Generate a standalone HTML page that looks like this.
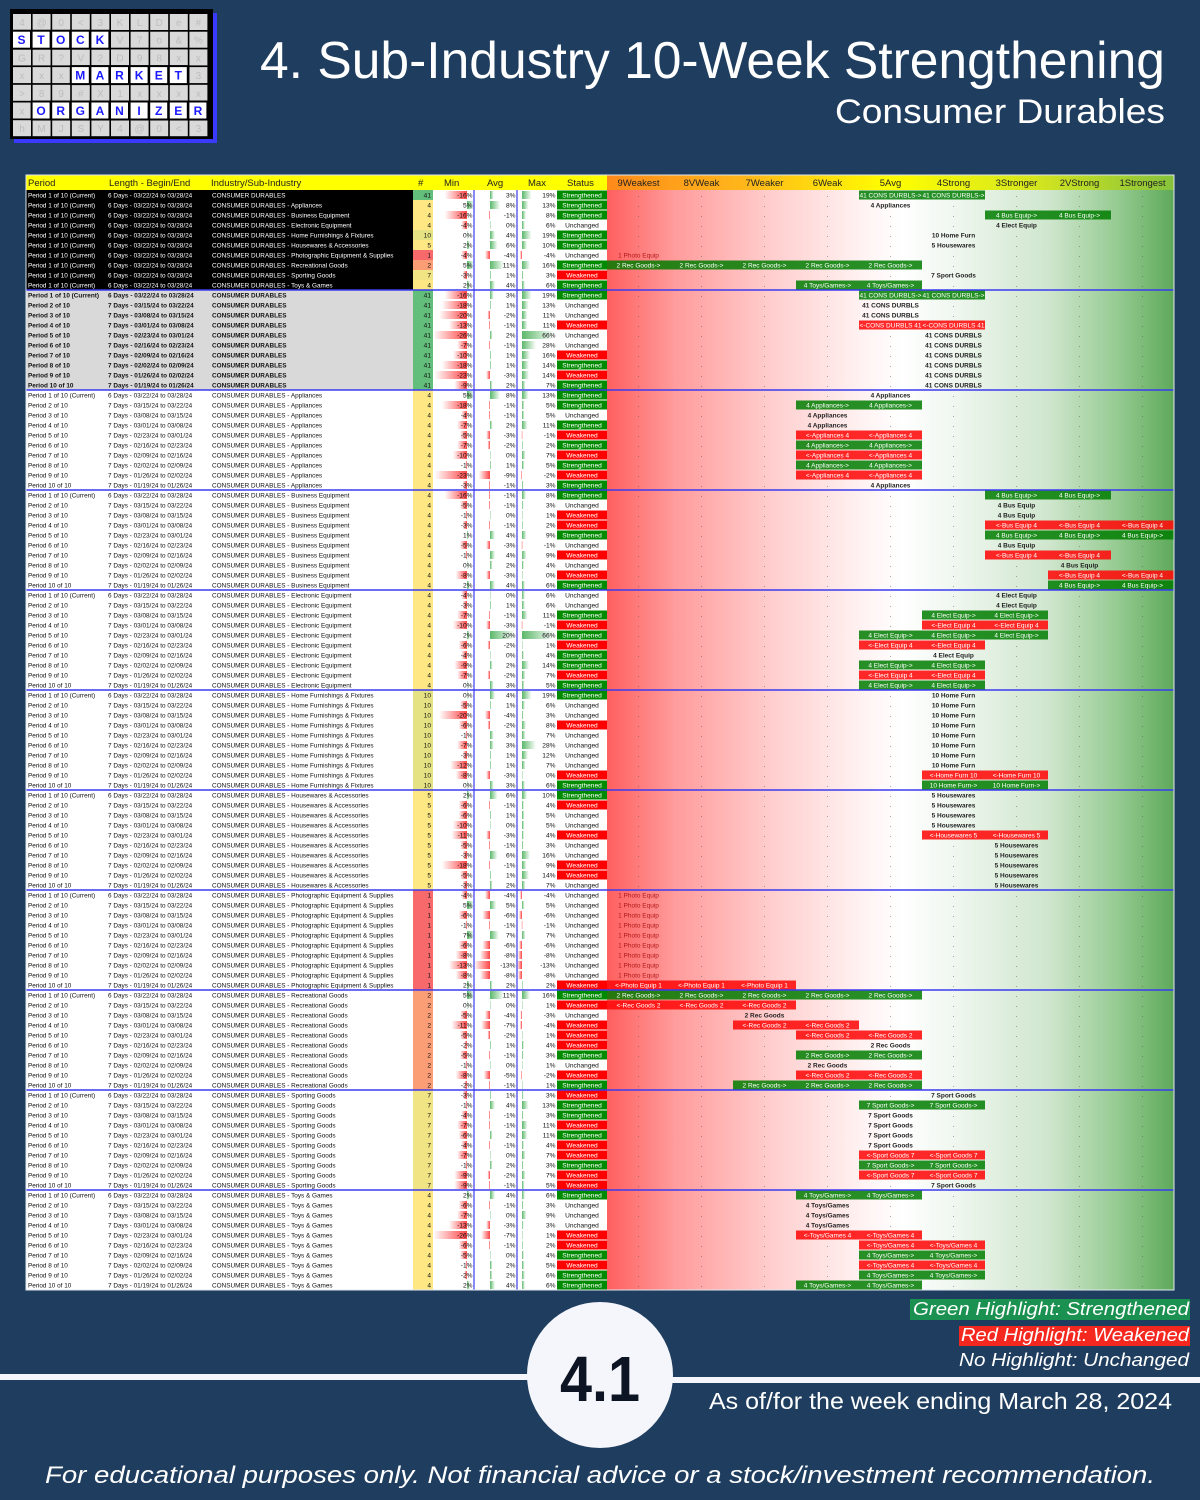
<!DOCTYPE html>
<html><head><meta charset="utf-8"><title>Sub-Industry 10-Week Strengthening</title>
<style>
html,body{margin:0;padding:0;background:#1f3e5f;width:1200px;height:1500px;overflow:hidden}
svg{display:block}
text{font-family:"Liberation Sans",sans-serif}
</style></head>
<body>
<svg id="root" width="1200" height="1500" viewBox="0 0 1200 1500" xmlns="http://www.w3.org/2000/svg">
<defs>
<linearGradient id="heatBg" x1="0" x2="1" y1="0" y2="0">
<stop offset="0" stop-color="#ff5f5f"/><stop offset="0.12" stop-color="#ff9c9c"/><stop offset="0.3" stop-color="#ffd0d0"/><stop offset="0.45" stop-color="#fff2f2"/><stop offset="0.52" stop-color="#ffffff"/><stop offset="0.62" stop-color="#eef6ee"/><stop offset="0.78" stop-color="#cfe6cd"/><stop offset="0.9" stop-color="#96cb92"/><stop offset="1" stop-color="#5ea95a"/>
</linearGradient>
<linearGradient id="headBg" x1="0" x2="1" y1="0" y2="0">
<stop offset="0" stop-color="#ff8a1a"/><stop offset="0.25" stop-color="#ffb81a"/><stop offset="0.5" stop-color="#ffff00"/><stop offset="0.75" stop-color="#d6e61e"/><stop offset="1" stop-color="#86c23c"/>
</linearGradient>
<linearGradient id="negBar" x1="0" x2="1"><stop offset="0" stop-color="#ffffff"/><stop offset="1" stop-color="#f44"/></linearGradient>
<linearGradient id="posBar" x1="0" x2="1"><stop offset="0" stop-color="#5cb86a"/><stop offset="1" stop-color="#ffffff"/></linearGradient>
</defs>

<!-- logo -->
<g id="logo">
<rect x="14" y="13" width="203" height="130" fill="#3a3aff"/>
<rect x="10" y="9" width="203" height="130" fill="#000"/>
</g>

<text x="1165" y="78" text-anchor="end" font-size="52" fill="#ffffff" textLength="905" lengthAdjust="spacingAndGlyphs">4. Sub-Industry 10-Week Strengthening</text>
<text x="1165" y="123" text-anchor="end" font-size="34" fill="#ffffff" textLength="330" lengthAdjust="spacingAndGlyphs">Consumer Durables</text>

<g id="table"></g>

<!-- legend -->
<rect x="910" y="1299" width="280" height="21" fill="#1a9150"/>
<text x="1189" y="1315" text-anchor="end" font-size="18" font-style="italic" fill="#fff" textLength="276" lengthAdjust="spacingAndGlyphs">Green Highlight: Strengthened</text>
<rect x="959" y="1326" width="231" height="20" fill="#f4281e"/>
<text x="1189" y="1341" text-anchor="end" font-size="18" font-style="italic" fill="#fff" textLength="228" lengthAdjust="spacingAndGlyphs">Red Highlight: Weakened</text>
<text x="1189" y="1366" text-anchor="end" font-size="18" font-style="italic" fill="#fff" textLength="230" lengthAdjust="spacingAndGlyphs">No Highlight: Unchanged</text>

<rect x="0" y="1374" width="530" height="6" fill="#f4f6fb"/>
<rect x="670" y="1377" width="530" height="6" fill="#f4f6fb"/>
<circle cx="600" cy="1375" r="73" fill="#f4f6fb"/>
<text x="600" y="1401" text-anchor="middle" font-size="64" font-weight="bold" fill="#0d1424" textLength="80" lengthAdjust="spacingAndGlyphs">4.1</text>
<text x="1172" y="1409" text-anchor="end" font-size="23" fill="#fff" textLength="463" lengthAdjust="spacingAndGlyphs">As of/for the week ending March 28, 2024</text>
<text x="600" y="1483" text-anchor="middle" font-size="24" font-style="italic" fill="#fff" textLength="1110" lengthAdjust="spacingAndGlyphs">For educational purposes only. Not financial advice or a stock/investment recommendation.</text>
</svg>

<script>
// ---------- data ----------
const subNames = ["CONSUMER DURABLES","CONSUMER DURABLES - Appliances","CONSUMER DURABLES - Business Equipment","CONSUMER DURABLES - Electronic Equipment","CONSUMER DURABLES - Home Furnishings & Fixtures","CONSUMER DURABLES - Housewares & Accessories","CONSUMER DURABLES - Photographic Equipment & Supplies","CONSUMER DURABLES - Recreational Goods","CONSUMER DURABLES - Sporting Goods","CONSUMER DURABLES - Toys & Games"];
const subCounts = [41,4,4,4,10,5,1,2,7,4];
const subShort = ["CONS DURBLS","Appliances","Bus Equip","Elect Equip","Home Furn","Housewares","Photo Equip","Rec Goods","Sport Goods","Toys/Games"];
const periodLengths = ["6 Days - 03/22/24 to 03/28/24","7 Days - 03/15/24 to 03/22/24","7 Days - 03/08/24 to 03/15/24","7 Days - 03/01/24 to 03/08/24","7 Days - 02/23/24 to 03/01/24","7 Days - 02/16/24 to 02/23/24","7 Days - 02/09/24 to 02/16/24","7 Days - 02/02/24 to 02/09/24","7 Days - 01/26/24 to 02/02/24","7 Days - 01/19/24 to 01/26/24"];
const headerLabels = ["Period","Length - Begin/End","Industry/Sub-Industry","#","Min","Avg","Max","Status"];
const rankLabels = ["9Weakest","8VWeak","7Weaker","6Weak","5Avg","4Strong","3Stronger","2VStrong","1Strongest"];
const minVals = [
-16,5,-16,-4,0,2,-4,5,-3,2,
-16,-18,-20,-13,-26,-7,-10,-18,-23,-9,
5,-18,-4,-7,-5,-7,-10,-1,-23,-3,
-16,-5,-1,-3,1,-5,-1,0,-8,2,
-4,-3,-7,-10,2,-6,-4,-9,-7,0,
0,-5,-20,-6,-1,-7,-3,-12,-8,0,
2,-6,-6,-10,-11,-5,-3,-18,-5,-3,
-4,5,-6,-1,7,-6,-8,-13,-8,2,
5,0,-5,-11,-5,-2,-5,-1,-8,-2,
-3,-1,-4,-7,-6,-4,-7,-1,-9,-9,
2,-6,-7,-13,-26,-6,-5,-1,-2,2];
const avgVals = [
3,8,-1,0,4,6,-4,11,1,4,
3,1,-2,-1,2,-1,1,1,-3,2,
8,-1,-1,2,-3,-2,0,1,-9,-1,
-1,-1,0,-1,4,-3,4,2,-3,4,
0,1,-1,-3,20,-2,0,2,-2,3,
4,1,-4,-2,3,3,1,1,-3,3,
6,-1,1,0,-3,-1,6,-1,1,2,
-4,5,-6,-1,7,-6,-8,-13,-8,2,
11,0,-4,-7,-2,1,-1,0,-5,-1,
1,4,-1,-1,2,-1,0,2,-2,-1,
4,-1,0,-3,-7,-1,0,2,2,4];
const maxVals = [
19,13,8,6,19,10,-4,16,3,6,
19,13,11,11,66,28,16,14,14,7,
13,5,5,11,-1,2,7,5,-2,3,
8,3,1,2,9,-1,9,4,0,6,
6,6,11,-1,66,1,4,14,7,5,
19,6,3,8,7,28,12,7,0,6,
10,4,5,5,4,3,16,9,14,7,
-4,5,-6,-1,7,-6,-8,-13,-8,2,
16,1,-3,-4,1,4,3,1,-2,1,
3,13,3,11,11,4,7,3,7,5,
6,3,9,3,1,2,4,5,6,6];
const statusCodes = "SSSUSSUSWS"+"SUUWUUWSWS"+"SSUSWSWSWS"+"SUWWSUWUWS"+"UUSWSWSSWS"+"SUUWUUUUWS"+"SWUUWUUWWU"+"UUUUUUUUUW"+"SWUWWWSUWS"+"WSSWSWWSWW"+"SUUUWWSWSS";
const cellSpecs = [
"4g5g","4n","6g7g","6n","5n","5n","0p","0g1g2g3g4g","5n","3g4g",
"4g5g","4n","4n","4r5r","5n","5n","5n","5n","5n","5n",
"4n","3g4g","3n","3n","3r4r","3g4g","3r4r","3g4g","3r4r","4n",
"6g7g","6n","6n","6r7r8r","6g7g8g","6n","6r7r","7n","7r8r","7g8g",
"6n","6n","5g6g","5r6r","4g5g6g","4r5r","5n","4g5g","4r5r","4g5g",
"5n","5n","5n","5n","5n","5n","5n","5n","5r6r","5g6g",
"5n","5n","5n","5n","5r6r","6n","6n","6n","6n","6n",
"0p","0p","0p","0p","0p","0p","0p","0p","0p","0r1r2r",
"0g1g2g3g4g","0r1r2r","2n","2r3r","3r4r","4n","3g4g","3n","3r4r","2g3g4g",
"5n","4g5g","4n","4n","4n","4n","4r5r","4g5g","4r5r","5n",
"3g4g","3n","3n","3n","3r4r","4r5r","4g5g","4r5r","4g5g","3g4g"];

// ---------- layout ----------
const NS = "http://www.w3.org/2000/svg";
const T = document.getElementById("table");
const X0 = 26, X1 = 1174, HY = 175, RY = 190, RH = 10;
const colX = {period:28,len:108,ind:212,cnt0:413,cnt1:433,min0:433,min1:474,avg0:474,avg1:517,max0:517,max1:557,st0:557,st1:607};
const heatX0 = 607, heatW = 63;
const countColors = {41:"#63be7b",10:"#e4e282",7:"#f1e484",5:"#fde884",4:"#ffe884",2:"#fb9d75",1:"#f8696b"};
const minAxis = x => 467 + x*1.4;
const avgAxis = x => 490 + x*1.25;
const maxAxis = x => 522 + x*0.5;
const rowY = i => RY + i*RH;
const heatXc = k => heatX0 + k*heatW + heatW/2;

function el(tag, attrs, parent){
  const e = document.createElementNS(NS, tag);
  for (const k in attrs) e.setAttribute(k, attrs[k]);
  (parent||T).appendChild(e);
  return e;
}

// logo grid
const L = document.getElementById("logo");
const logoWords = [[1,0,"STOCK"],[3,3,"MARKET"],[5,1,"ORGANIZER"]];
const fillerChars = "4@0<3KLDe#==-SMV7o&%GR?V2D98xxxxxx-IM*q3>89#X1xxxxxxxxx4@0LDhMJSY";
for (let r=0;r<7;r++) for (let c=0;c<10;c++){
  const g = el("rect",{x:13+c*19.6,y:14+r*17.7,width:18,height:16,fill:"#d9d9d9"},L);
  
  
  const t = el("text",{x:13+c*19.6+9,y:14+r*17.7+12,"text-anchor":"middle","font-size":"10",fill:"#bdbdbd"},L);
  
  
  t.textContent = fillerChars[(r*10+c)%fillerChars.length];
}
logoWords.forEach(([r,c0,w])=>{
  const bg = el("rect",{x:13+c0*19.6-2,y:14+r*17.7-2,width:w.length*19.6+2,height:20,fill:"#000"},L);
  
  
  for (let i=0;i<w.length;i++){
    const x = 13+(c0+i)*19.6, y = 14+r*17.7;
    const b = el("rect",{x:x,y:y,width:17,height:16,fill:"#fff"},L);
    
    
    const t = el("text",{x:x+8.5,y:y+12.5,"text-anchor":"middle","font-size":"12","font-weight":"bold",fill:"#1a1aff"},L);
    
    
    t.textContent = w[i];
  }
});

// header
const hb = el("rect",{x:X0,y:HY,width:heatX0-X0,height:15,fill:"#ffff00"});


const hb2 = el("rect",{x:heatX0,y:HY,width:X1-heatX0,height:15,fill:"url(#headBg)"});


const hx = [28,109,211,418,444,487,528,567];
headerLabels.forEach((h,i)=>{
  const t = el("text",{x:hx[i],y:HY+11,"font-size":"9.5",fill:"#222"});
  
  
  t.textContent = h;
});
rankLabels.forEach((h,k)=>{
  const t = el("text",{x:heatXc(k),y:HY+11,"font-size":"9.5","text-anchor":"middle",fill:"#222"});
  
  
  t.textContent = h;
});

// body backgrounds
const nRows = minVals.length;
const bodyBg = el("rect",{x:X0,y:RY,width:heatX0-X0,height:nRows*RH,fill:"#ffffff"});


const heatBg = el("rect",{x:heatX0,y:RY,width:X1-heatX0,height:nRows*RH,fill:"url(#heatBg)"});


const blkA = el("rect",{x:X0,y:RY,width:colX.cnt0-X0,height:10*RH,fill:"#000"});


const blkB = el("rect",{x:X0,y:RY+10*RH,width:colX.cnt0-X0,height:10*RH,fill:"#d9d9d9"});



for (let i=0;i<nRows;i++){
  const y = rowY(i);
  const sub = i<10 ? i : Math.floor((i-10)/10);
  const per = i<10 ? 1 : ((i-10)%10)+1;
  const dark = i<10, bold = i>=10 && i<20;
  const txtCol = dark ? "#fff" : "#111";
  const fw = bold ? "bold" : "normal";
  const pt = el("text",{x:colX.period,y:y+7.5,"font-size":"6.4",fill:txtCol,"font-weight":fw});
  
  
  pt.textContent = per===1 ? "Period 1 of 10 (Current)" : "Period "+per+" of 10";
  const lt = el("text",{x:colX.len,y:y+7.5,"font-size":"6.4",fill:txtCol,"font-weight":fw});
  
  
  lt.textContent = periodLengths[per-1];
  const it = el("text",{x:colX.ind,y:y+7.5,"font-size":"6.4",fill:txtCol,"font-weight":fw});
  
  
  it.textContent = subNames[sub];
  // count
  const cnt = subCounts[sub];
  const cb = el("rect",{x:colX.cnt0,y:y,width:20,height:RH,fill:countColors[cnt]||"#ffe884"});
  
  
  const ct = el("text",{x:colX.cnt1-2,y:y+7.5,"font-size":"6.6","text-anchor":"end",fill:"#111"});
  
  
  ct.textContent = cnt;
  // bars
  [[minVals[i],minAxis,colX.min0,colX.min1,"min"],[avgVals[i],avgAxis,colX.avg0,colX.avg1,"avg"],[maxVals[i],maxAxis,colX.max0,colX.max1,"max"]].forEach(([v,ax,c0,c1,nm])=>{
    const a = ax(0), b = Math.max(c0, Math.min(c1, ax(v)));
    const x = Math.min(a,b), w = Math.max(0.8, Math.abs(b-a));
    const bar = el("rect",{x:x,y:y+1,width:w,height:RH-2,fill:v<0?"url(#negBar)":"url(#posBar)"});
    
    
    const vt = el("text",{x:c1-1.5,y:y+7.5,"font-size":"6.6","text-anchor":"end",fill:"#111"});
    
    
    vt.textContent = v+"%";
  });
  // status
  const sc = statusCodes[i];
  const sfill = sc==="S" ? "#008a00" : sc==="W" ? "#ff0000" : "#ffffff";
  const sb = el("rect",{x:colX.st0,y:y+0.5,width:colX.st1-colX.st0,height:RH-1,fill:sfill});
  
  
  const stt = el("text",{x:(colX.st0+colX.st1)/2,y:y+7.5,"font-size":"6.6","text-anchor":"middle",fill:sc==="U"?"#111":"#fff"});
  
  
  stt.textContent = sc==="S" ? "Strengthened" : sc==="W" ? "Weakened" : "Unchanged";
  // heat cells
  const spec = cellSpecs[i];
  const used = {};
  for (let j=0;j<spec.length;j+=2){
    const k = +spec[j], tp = spec[j+1];
    used[k] = tp;
    const nm = subShort[sub];
    let label = cnt+" "+nm, fill = null, color = "#222";
    if (tp==="g"){ label = cnt+" "+nm+"->"; fill = "rgba(0,125,0,0.85)"; color = "#fff"; }
    if (tp==="r"){ label = "<-"+nm+" "+cnt; fill = "rgba(255,10,10,0.88)"; color = "#fff"; }
    if (tp==="p"){ color = "#b01818"; }
    if (fill){
      const hr = el("rect",{x:heatX0+k*heatW,y:y+0.5,width:heatW,height:RH-1,fill:fill});
      
      
    }
    const ht = el("text",{x:heatXc(k),y:y+7.5,"font-size":"6.5","text-anchor":"middle",fill:color,"font-weight":tp==="n"?"bold":"normal"});
    
    
    ht.textContent = label;
  }
  for (let k=0;k<9;k++){
    if (used[k]) continue;
    const d = el("text",{x:heatXc(k),y:y+7,"font-size":"6","text-anchor":"middle",fill:"#444"});
    
    
    d.textContent = ".";
  }
}

// separators
for (let b=1;b<11;b++){
  const ln = el("rect",{x:X0,y:RY+b*10*RH-0.75,width:X1-X0,height:1.5,fill:"#3b3bf0"});
  
  
}
[colX.min1, colX.avg1].forEach(x=>{
  const v = el("rect",{x:x-0.6,y:RY,width:1.2,height:nRows*RH,fill:"#3b3bf0"});
  
  
});
const border = el("rect",{x:X0,y:HY,width:X1-X0,height:RY+nRows*RH-HY,fill:"none",stroke:"#dfe6ee","stroke-width":"1"});


</script>
</body></html>
